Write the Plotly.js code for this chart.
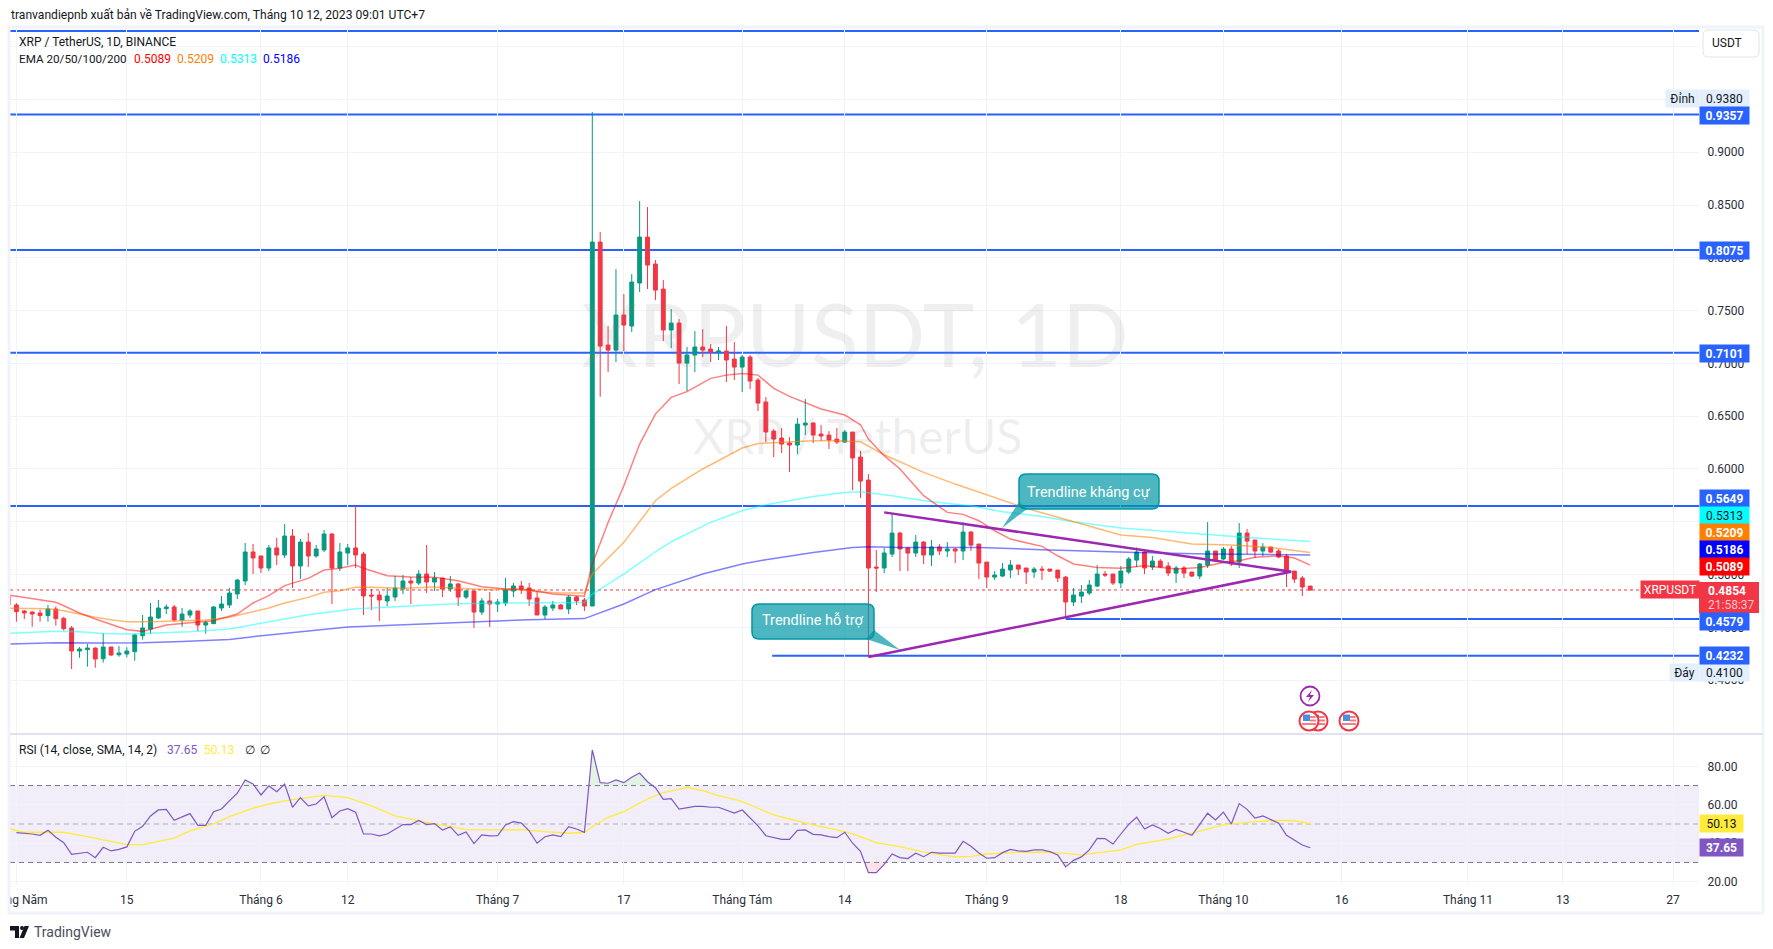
<!DOCTYPE html>
<html>
<head>
<meta charset="utf-8">
<script src="https://cdn.plot.ly/plotly-3.0.1.min.js"></script>
<style>html,body{margin:0;padding:0;background:#fff;overflow:hidden}#chart{width:1773px;height:949px}</style>
</head>
<body>
<div id="chart"></div>
<script>
const firstDay = '2023-05-01';
const opens = [.4800,
.4712,.4655,.4645,.4636,.4611,.4674,.4585,.4494,.4276,.4289,
.4304,.4203,.4314,.4241,.4248,.4270,.4421,.4484,.4589,.4677,
.4693,.4570,.4617,.4655,.4522,.4535,.4683,.4712,.4816,.4939,
.5214,.5176,.5062,.5252,.5185,.5365,.5081,.5308,.5176,.5233,
.5384,.5062,.5204,.5252,.5195,.4806,.4806,.4750,.4787,.4863,
.4939,.4920,.5005,.4929,.4967,.4863,.4911,.4787,.4844,.4645,
.4750,.4721,.4731,.4844,.4892,.4873,.4778,.4617,.4683,.4712,
.4674,.4787,.4759,.4702,.8149,.7174,.7126,.7458,.7354,.7761,
.8196,.7941,.7704,.7316,.7382,.7003,.7079,.7155,.7136,.7107,
.7117,.7041,.6965,.7060,.6842,.6634,.6359,.6293,.6246,.6227,
.6416,.6435,.6331,.6321,.6283,.6255,.6350,.6113,.5895,.5071,
.5062,.5194,.5393,.5251,.5204,.5308,.5185,.5261,.5223,.5242,
.5223,.5403,.5289,.5118,.4976,.4986,.5043,.5090,.5062,.5024,
.5052,.5052,.5043,.4976,.4740,.4796,.4825,.4891,.5005,.5005,
.4920,.5024,.5137,.5213,.5071,.5128,.5081,.5014,.5062,.5024,
.4986,.5090,.5223,.5147,.5242,.5118,.5393,.5327,.5223,.5261,
.5223,.5175,.5033,.4967,.4891];
const highs = [.4806,
.4731,.4664,.4655,.4667,.4712,.4699,.4601,.4513,.4314,.4342,
.4311,.4446,.4314,.4323,.4311,.4437,.4617,.4731,.4759,.4718,
.4712,.4683,.4671,.4655,.4563,.4702,.4797,.4873,.4958,.5299,
.5289,.5176,.5280,.5346,.5479,.5431,.5337,.5394,.5280,.5422,
.5394,.5299,.5289,.5659,.5214,.4863,.4844,.4873,.4986,.4996,
.4977,.5043,.5280,.5024,.4967,.4986,.4920,.4854,.4844,.4778,
.4835,.4768,.4967,.4920,.4939,.4920,.4844,.4712,.4750,.4721,
.4806,.4797,.4778,.9380,.8244,.7354,.7893,.7657,.7846,.8537,
.8481,.7979,.7789,.7515,.7420,.7155,.7306,.7325,.7183,.7155,
.7354,.7202,.7079,.7079,.6861,.6681,.6378,.6388,.6302,.6482,
.6662,.6444,.6416,.6359,.6388,.6369,.6350,.6170,.5952,.5232,
.5251,.5583,.5403,.5261,.5374,.5317,.5327,.5289,.5308,.5251,
.5497,.5412,.5289,.5118,.5033,.5109,.5137,.5090,.5062,.5071,
.5081,.5052,.5043,.4986,.4872,.4901,.4948,.5090,.5033,.5005,
.5081,.5166,.5257,.5223,.5175,.5147,.5118,.5081,.5081,.5024,
.5109,.5497,.5223,.5261,.5270,.5488,.5431,.5327,.5298,.5261,
.5242,.5194,.5033,.4986,.4891];
const lows = [.4700,
.4554,.4579,.4506,.4554,.4554,.4516,.4469,.4105,.4213,.4128,
.4118,.4166,.4229,.4222,.4216,.4184,.4383,.4440,.4579,.4626,
.4554,.4506,.4589,.4465,.4440,.4532,.4655,.4683,.4768,.4901,
.5005,.5015,.5034,.5090,.5157,.4873,.4958,.5072,.5160,.5214,
.4721,.5034,.5090,.5062,.4617,.4664,.4560,.4702,.4750,.4816,
.4721,.4901,.4825,.4844,.4787,.4835,.4702,.4768,.4494,.4617,
.4503,.4645,.4702,.4787,.4816,.4702,.4617,.4579,.4655,.4674,
.4626,.4712,.4655,.4702,.6684,.6918,.7013,.7117,.7297,.7676,
.7704,.7600,.7211,.7145,.6804,.6738,.6918,.7060,.7013,.7032,
.6823,.6842,.6728,.6757,.6549,.6252,.6113,.6151,.5971,.6141,
.6321,.6246,.6265,.6189,.6236,.6246,.5800,.5725,.4219,.4834,
.5014,.5166,.5033,.5033,.5166,.5100,.5081,.5185,.5166,.5109,
.5137,.5223,.4957,.4872,.4948,.4976,.4967,.4995,.4910,.4967,
.4948,.5024,.4929,.4598,.4702,.4730,.4806,.4882,.4976,.4901,
.4872,.5005,.5071,.5005,.5043,.5062,.4986,.4920,.4967,.4976,
.4957,.5062,.5128,.5137,.5081,.5062,.5194,.5156,.5175,.5204,
.5156,.4882,.4920,.4796,.4844];
const closes = [.4712,
.4649,.4636,.4626,.4611,.4674,.4582,.4488,.4276,.4295,.4304,
.4200,.4314,.4238,.4257,.4276,.4428,.4494,.4598,.4683,.4693,
.4570,.4626,.4655,.4522,.4544,.4693,.4721,.4825,.4948,.5214,
.5157,.5062,.5252,.5185,.5365,.5081,.5308,.5176,.5242,.5384,
.5062,.5214,.5252,.5185,.4797,.4797,.4759,.4797,.4873,.4939,
.4920,.5005,.4929,.4967,.4863,.4911,.4787,.4844,.4645,.4750,
.4721,.4740,.4854,.4892,.4863,.4768,.4617,.4693,.4712,.4674,
.4787,.4750,.4702,.8149,.7164,.7126,.7458,.7363,.7770,.8196,
.7931,.7694,.7316,.7382,.7003,.7079,.7155,.7126,.7107,.7117,
.7032,.6965,.7060,.6833,.6624,.6350,.6283,.6236,.6227,.6425,
.6435,.6321,.6312,.6274,.6255,.6350,.6104,.5886,.5062,.5062,
.5204,.5393,.5242,.5204,.5308,.5185,.5261,.5223,.5242,.5223,
.5403,.5279,.5109,.4976,.4995,.5052,.5090,.5052,.5024,.5052,
.5043,.5033,.4967,.4740,.4806,.4834,.4901,.5005,.4995,.4920,
.5033,.5147,.5213,.5062,.5128,.5071,.5014,.5062,.5014,.4986,
.5100,.5223,.5137,.5242,.5100,.5393,.5317,.5223,.5261,.5213,
.5166,.5024,.4957,.4882,.4854];

const ema20Days = [-1,1,3,5,6,8,10,12,14,16,17,19,22,25,28,30,32,34,37,39,41,43,44,47,50,53,56,59,62,65,68,72,73,75,77,79,81,83,85,88,90,92,94,96,98,100,102,105,107,108,110,112,115,118,120,122,124,126,130,132,134,137,140,143,147,150,153,155,157,160,162,164];
const ema20Vals = [.4806,.4784,.4759,.4737,.4705,.4636,.4579,.4525,.4478,.4462,.4484,.4522,.4544,.4563,.4626,.4731,.4800,.4895,.4964,.5043,.5059,.5090,.5059,.4989,.4977,.4974,.4942,.4885,.4863,.4857,.4816,.4795,.5100,.5494,.5841,.6236,.6520,.6678,.6732,.6858,.6889,.6905,.6889,.6763,.6688,.6631,.6568,.6511,.6419,.6283,.6126,.6000,.5747,.5589,.5570,.5510,.5415,.5336,.5267,.5178,.5100,.5068,.5059,.5084,.5052,.5068,.5115,.5131,.5163,.5178,.5156,.5089];
const ema50Days = [-1,4,6,8,10,12,14,17,20,24,27,30,32,34,37,39,41,43,45,49,53,56,60,63,66,69,72,73,77,81,83,87,92,94,98,101,104,106,107,110,115,119,122,125,128,132,135,140,144,149,154,159,164];
const ema50Vals = [.4680,.4677,.4658,.4626,.4595,.4573,.4554,.4554,.4563,.4570,.4595,.4649,.4683,.4731,.4784,.4832,.4847,.4879,.4879,.4870,.4882,.4870,.4857,.4863,.4838,.4825,.4825,.5005,.5305,.5699,.5816,.6000,.6198,.6242,.6258,.6268,.6268,.6261,.6258,.6135,.5968,.5857,.5778,.5699,.5627,.5542,.5478,.5374,.5352,.5289,.5279,.5257,.5209];
const ema100Days = [-1,5,8,11,14,17,22,27,30,34,37,41,43,47,51,55,61,66,72,73,77,81,83,88,92,95,101,105,107,111,116,121,125,130,134,140,147,154,164];
const ema100Vals = [.4443,.4462,.4459,.4443,.4437,.4446,.4459,.4484,.4525,.4579,.4620,.4658,.4677,.4690,.4705,.4721,.4731,.4734,.4735,.4815,.5005,.5216,.5311,.5494,.5605,.5662,.5740,.5778,.5785,.5747,.5690,.5652,.5595,.5551,.5500,.5441,.5399,.5362,.5313];
const ema200Days = [-1,5,11,16,21,27,30,34,38,42,46,53,58,65,72,77,81,87,92,95,101,106,108,112,122,130,142,151,164];
const ema200Vals = [.4342,.4355,.4352,.4355,.4367,.4386,.4412,.4443,.4475,.4503,.4516,.4538,.4554,.4573,.4583,.4721,.4857,.5005,.5100,.5141,.5210,.5257,.5264,.5257,.5257,.5235,.5210,.5194,.5186];

const rsiVals = [
45.5,45.3,44.8,44.1,46.7,43.1,40.3,34.2,34.6,35.3,
32.5,37.9,36.0,36.8,38.1,46.2,48.8,54.2,57.3,57.6,
51.9,53.6,55.4,49.3,49.3,56.4,57.8,62.0,66.0,72.9,
70.8,65.1,69.8,66.8,70.8,58.7,63.7,59.4,60.4,64.2,
53.3,56.8,58.0,56.1,44.8,44.8,43.8,44.8,47.4,49.7,
49.7,51.9,49.7,50.2,46.9,48.5,44.1,45.9,39.8,44.3,
43.8,44.0,49.5,51.2,50.5,46.4,40.0,43.4,44.3,43.4,
48.6,47.4,45.7,88.5,71.5,71.2,72.9,71.5,74.3,76.5,
72.0,68.9,62.8,63.2,57.8,58.5,59.2,59.2,58.7,58.7,
57.3,55.7,57.3,53.1,49.0,43.9,42.9,42.0,42.0,46.7,
46.9,44.6,44.3,43.4,42.9,45.7,40.0,35.8,24.7,24.7,
29.0,34.4,32.5,32.0,34.8,33.0,35.3,34.9,34.9,34.9,
41.0,38.4,34.9,32.2,32.5,35.1,36.8,36.0,35.8,36.5,
36.5,35.6,33.9,27.7,31.1,32.9,36.5,42.5,42.4,39.6,
44.8,49.8,53.5,47.4,49.5,47.7,45.2,47.2,45.7,44.1,
49.8,55.6,52.1,56.2,50.0,60.6,57.6,53.1,54.2,52.4,
50.4,44.1,41.7,39.1,37.65];
const rsiMaDays = [-1,1,4,6,9,12,14,16,18,20,22,25,27,30,32,34,36,39,42,45,48,50,52,55,57,61,64,67,70,72,73,75,77,80,82,84,85,87,89,91,92,94,96,98,101,105,107,109,112,115,119,121,123,127,131,135,138,140,142,146,149,153,157,160,162,164];
const rsiMaVals = [47.6,45.7,45.7,45.7,43.4,40.8,39.3,39.3,40.8,42.7,46.4,50.0,53.8,58.3,60.4,62.0,63.2,64.9,63.7,59.4,54.2,52.4,50.9,48.6,47.1,46.9,47.1,46.0,45.2,45.7,48.6,53.5,56.4,63.0,66.3,68.0,69.1,67.3,64.7,62.8,61.6,58.2,54.7,52.6,49.5,46.0,43.4,40.3,38.2,35.4,32.9,33.2,34.4,35.3,35.4,33.9,35.6,36.5,39.4,42.2,45.2,49.5,51.2,51.9,51.7,50.13];

const levelVals = [1.0148,.9357,.8075,.7101,.5649,.4579,.4232];
const levelFromDay = [-2,-2,-2,-2,-2,133,95.8];
const supportDays = [108,161.6];
const supportVals = [.4220,.5027];
const resistDays = [110,161.6];
const resistVals = [.5589,.5027];

const tickDates = ['2023-05-01','2023-05-15','2023-06-01','2023-06-12','2023-07-01','2023-07-17','2023-08-01','2023-08-14','2023-09-01','2023-09-18','2023-10-01','2023-10-16','2023-11-01','2023-11-13','2023-11-27'];
const tickNames = ['Tháng Năm','15','Tháng 6','12','Tháng 7','17','Tháng Tám','14','Tháng 9','18','Tháng 10','16','Tháng 11','13','27'];
const priceTicks = [.40,.45,.50,.55,.60,.65,.70,.75,.80,.85,.90,.95,1.00];
const priceTickNames = ['0.4000','0.4500','0.5000','','0.6000','0.6500','0.7000','0.7500','0.8000','0.8500','0.9000','',''];
const rsiTicks = [20,40,60,80];
const lastPrice = .4854;

const W = 1773, H = 949;
const X = px => px / W, Y = py => 1 - py / H;
const BLUE = '#2962ff', RED = '#f23645', GREEN = '#089981', PURPLE = '#9c27b0', TXT = '#131722';
const dayMs = 86400000, t0 = Date.parse(firstDay + 'T00:00:00Z');
const dateOf = d => new Date(t0 + d * dayMs).toISOString().replace('T', ' ').replace('Z', '');
const dates = opens.map((_, i) => dateOf(i - 1));
const dPx = 7.889;
const rangeStart = dateOf((10 - 16.4) / dPx), rangeEnd = dateOf((1699 - 16.4) / dPx);

function lineTrace(days, vals, color, width, yaxis) {
  return {type: 'scatter', mode: 'lines', x: days.map(dateOf), y: vals, yaxis: yaxis || 'y', xaxis: 'x',
    line: {color, width}, hoverinfo: 'skip'};
}
function fillPolys(thr, sign, color) {
  const out = [];
  let cur = null;
  rsiVals.forEach((v, i) => {
    const inside = sign * (v - thr) > 0;
    if (inside) {
      if (!cur) {
        const p = i ? rsiVals[i - 1] : v;
        const f = i ? i - 1 + (thr - p) / (v - p) : i;
        cur = {x: [f], y: [thr]};
      }
      cur.x.push(i); cur.y.push(v);
    } else if (cur) {
      const p = rsiVals[i - 1];
      cur.x.push(i - 1 + (thr - p) / (v - p)); cur.y.push(thr);
      out.push(cur); cur = null;
    }
  });
  return out.map(c => ({type: 'scatter', mode: 'lines', x: c.x.map(dateOf), y: c.y, yaxis: 'y2', xaxis: 'x',
    fill: 'toself', fillcolor: color, line: {width: 0}, hoverinfo: 'skip'}));
}

const traces = [
  {type: 'candlestick', x: dates, open: opens, high: highs, low: lows, close: closes, xaxis: 'x', yaxis: 'y',
   whiskerwidth: 0,
   increasing: {line: {color: GREEN, width: 1}, fillcolor: GREEN},
   decreasing: {line: {color: RED, width: 1}, fillcolor: RED}, hoverinfo: 'skip'},
  lineTrace(ema200Days, ema200Vals, 'rgba(0,0,255,0.5)', 1.5),
  lineTrace(ema100Days, ema100Vals, 'rgba(0,255,255,0.5)', 1.5),
  lineTrace(ema50Days, ema50Vals, 'rgba(255,128,0,0.55)', 1.5),
  lineTrace(ema20Days, ema20Vals, 'rgba(255,0,0,0.5)', 1.5),
  lineTrace(supportDays, supportVals, PURPLE, 2.5),
  lineTrace(resistDays, resistVals, PURPLE, 2.5),
  ...fillPolys(70, 1, 'rgba(76,175,80,0.16)'),
  ...fillPolys(30, -1, 'rgba(242,54,69,0.14)'),
  lineTrace(rsiMaDays, rsiMaVals, '#ffeb3b', 1.3, 'y2'),
  lineTrace(rsiVals.map((_, i) => i), rsiVals, '#7e57c2', 1.2, 'y2')
];

function rr(x0, y0, x1, y1, r) {
  let p = `M${X(x0 + r)},${Y(y0)} L${X(x1 - r)},${Y(y0)} Q${X(x1)},${Y(y0)} ${X(x1)},${Y(y0 + r)} `;
  p += `L${X(x1)},${Y(y1 - r)} Q${X(x1)},${Y(y1)} ${X(x1 - r)},${Y(y1)} `;
  p += `L${X(x0 + r)},${Y(y1)} Q${X(x0)},${Y(y1)} ${X(x0)},${Y(y1 - r)} `;
  p += `L${X(x0)},${Y(y0 + r)} Q${X(x0)},${Y(y0)} ${X(x0 + r)},${Y(y0)} Z`;
  return p;
}
const pxRect = (x0, y0, x1, y1, fill, line) => ({type: 'rect', xref: 'paper', yref: 'paper', x0: X(x0), x1: X(x1), y0: Y(y1), y1: Y(y0),
  fillcolor: fill, line: line || {width: 0}, layer: 'above'});
const pxCircle = (cx, cy, r, fill, line) => ({type: 'circle', xref: 'paper', yref: 'paper', x0: X(cx - r), x1: X(cx + r), y0: Y(cy + r), y1: Y(cy - r),
  fillcolor: fill, line, layer: 'above'});
const pxPath = (path, fill, line) => ({type: 'path', xref: 'paper', yref: 'paper', path, fillcolor: fill, line: line || {width: 0}, layer: 'above'});
const poly = pts => 'M' + pts.map(p => `${X(p[0])},${Y(p[1])}`).join(' L') + ' Z';

function flag(cx, cy) {
  return [
    pxCircle(cx, cy, 9.5, '#ffffff', {color: RED, width: 2}),
    pxRect(cx - 6, cy - 6.5, cx + 1, cy, '#4a90e2'),
    pxRect(cx + 1, cy - 5, cx + 6.5, cy - 3, '#f77c80'),
    pxRect(cx + 1, cy - 1.5, cx + 7, cy + 0.5, '#f77c80'),
    pxRect(cx - 7, cy + 2, cx + 7, cy + 4, '#f77c80')
  ];
}

const shapes = [
  {type: 'rect', xref: 'paper', yref: 'y2', x0: X(10), x1: X(1699), y0: 30, y1: 70, fillcolor: 'rgba(126,87,194,0.1)', line: {width: 0}, layer: 'below'},
  {type: 'line', xref: 'paper', yref: 'y2', x0: X(10), x1: X(1699), y0: 70, y1: 70, line: {color: '#787b86', width: 1, dash: '5px,4px'}, layer: 'below'},
  {type: 'line', xref: 'paper', yref: 'y2', x0: X(10), x1: X(1699), y0: 30, y1: 30, line: {color: '#787b86', width: 1, dash: '5px,4px'}, layer: 'below'},
  {type: 'line', xref: 'paper', yref: 'y2', x0: X(10), x1: X(1699), y0: 50, y1: 50, line: {color: 'rgba(120,123,134,0.55)', width: 1, dash: '5px,4px'}, layer: 'below'},
  ...levelVals.map((v, i) => ({type: 'line', xref: 'x', yref: 'y', x0: dateOf(levelFromDay[i]), x1: rangeEnd, y0: v, y1: v, line: {color: BLUE, width: 2}, layer: 'below'})),
  {type: 'line', xref: 'paper', yref: 'y', x0: X(10), x1: X(1699), y0: lastPrice, y1: lastPrice, line: {color: RED, width: 1, dash: 'dot'}, layer: 'below'},
  pxPath(rr(752, 604, 874, 639, 7), 'rgba(0,151,167,0.7)', {color: '#0097a7', width: 1.5}),
  pxPath(poly([[874, 630], [900, 650], [866, 639]]), 'rgba(0,151,167,0.7)', {width: 0}),
  pxPath(rr(1019, 474, 1159, 509, 7), 'rgba(0,151,167,0.7)', {color: '#0097a7', width: 1.5}),
  pxPath(poly([[1019, 502], [1002, 528], [1027, 509]]), 'rgba(0,151,167,0.7)', {width: 0}),
  pxCircle(1310, 696, 9.5, '#ffffff', {color: PURPLE, width: 1.8}),
  pxPath(poly([[1312, 690], [1306, 697], [1310, 697], [1308, 702], [1314, 695], [1310, 695]]), PURPLE),
  ...flag(1318, 721), ...flag(1309, 721), ...flag(1349, 721),
  pxRect(0, 0, 8, 949, '#ffffff'),
  pxRect(9, 27, 1763, 913, 'rgba(0,0,0,0)', {color: '#f0f3fa', width: 3}),
  {type: 'line', xref: 'paper', yref: 'paper', x0: X(10), x1: X(1763), y0: Y(734), y1: Y(734), line: {color: '#e0e3eb', width: 2}, layer: 'above'},
  pxPath(rr(1703, 30, 1759, 57, 5), '#ffffff', {color: '#e0e3eb', width: 1}),
  pxRect(1699, 582, 1759, 613, RED),
  pxPath(poly([[10, 926], [19, 926], [19, 938], [15, 938], [15, 930.5], [10, 930.5]]), TXT),
  pxCircle(22, 928, 2, TXT, {width: 0}),
  pxPath(poly([[19.5, 938], [24.5, 926], [29, 926], [24, 938]]), TXT)
];

const txt = (x, y, text, o) => Object.assign({xref: 'paper', yref: 'paper', x: X(x), y: Y(y), text, showarrow: false,
  xanchor: 'left', yanchor: 'middle', font: {family: 'Roboto', size: 12, color: TXT}, borderpad: 0}, o || {});
function tag(val, shift, bg, fg, w, bold, yref) {
  const s = val.toFixed(yref === 'y2' ? 2 : 4);
  return {xref: 'paper', yref: yref || 'y', x: X(1699), y: val, yshift: shift, text: bold ? `<b>${s}</b>` : s, showarrow: false,
    xanchor: 'left', yanchor: 'middle', width: w || 49, height: 17, bgcolor: bg, borderpad: 0, align: 'center',
    font: {family: 'Roboto', size: 12, color: fg}};
}
function sideLabel(x0, x1, val, shift, text, bg, fg, yref) {
  return {xref: 'paper', yref: yref || 'y', x: X(x0), y: val, yshift: shift, text, showarrow: false, xanchor: 'left', yanchor: 'middle',
    width: x1 - x0, height: 17, bgcolor: bg, borderpad: 0, align: 'center', font: {family: 'Roboto', size: 12, color: fg}};
}

const annotations = [
  txt(10, 15, 'tranvandiepnb xuất bản về TradingView.com, Tháng 10 12, 2023 09:01 UTC+7', {font: {family: 'Roboto', size: 12.1, color: TXT}}),
  txt(17.5, 42, 'XRP / TetherUS, 1D, BINANCE'),
  txt(17.5, 59, 'EMA 20/50/100/200', {font: {family: 'Roboto', size: 11.7, color: TXT}}),
  txt(133, 59, '0.5089', {font: {family: 'Roboto', size: 12, color: '#ff0000'}}),
  txt(176, 59, '0.5209', {font: {family: 'Roboto', size: 12, color: '#ff8000'}}),
  txt(219, 59, '0.5313', {font: {family: 'Roboto', size: 12, color: '#00ffff'}}),
  txt(262, 59, '0.5186', {font: {family: 'Roboto', size: 12, color: '#0000ff'}}),
  txt(855, 333, 'XRPUSDT, 1D', {xanchor: 'center', font: {family: 'Lato', size: 88, color: 'rgba(120,123,134,0.12)'}}),
  txt(857, 436, 'XRP / TetherUS', {xanchor: 'center', font: {family: 'Lato', size: 48, color: 'rgba(120,123,134,0.12)'}}),
  txt(812.5, 620, 'Trendline hỗ trợ', {xanchor: 'center', font: {family: 'Roboto', size: 14.5, color: '#ffffff'}}),
  txt(1089, 492, 'Trendline kháng cự', {xanchor: 'center', font: {family: 'Roboto', size: 14.5, color: '#ffffff'}}),
  txt(18, 750, 'RSI (14, close, SMA, 14, 2)'),
  txt(166, 750, '37.65', {font: {family: 'Roboto', size: 12, color: '#7e57c2'}}),
  txt(203, 750, '50.13', {font: {family: 'Roboto', size: 12, color: '#ffeb3b'}}),
  txt(244, 750, '∅'),
  txt(259, 750, '∅'),
  txt(33, 932, 'TradingView', {font: {family: 'Roboto', size: 14, color: '#4a4e59'}}),
  txt(1711, 43.5, 'USDT'),
  sideLabel(1665, 1698, .9380, 13.6, 'Đỉnh', '#e3effd', TXT),
  tag(.9380, 13.6, '#e3effd', TXT),
  sideLabel(1669, 1698, .4100, -3.4, 'Đáy', '#e3effd', TXT),
  tag(.4100, -3.4, '#e3effd', TXT),
  tag(.9357, -1, BLUE, '#ffffff', 49, true),
  tag(.8075, -0.6, BLUE, '#ffffff', 49, true),
  tag(.7101, -0.8, BLUE, '#ffffff', 49, true),
  tag(.5649, 8, BLUE, '#ffffff', 49, true),
  tag(.5313, 26, '#00ffff', TXT),
  tag(.5209, 20, '#ff8000', '#ffffff', 49, true),
  tag(.5186, 5.4, '#0000ff', '#ffffff', 49, true),
  tag(.5089, -1.3, '#ff0000', '#ffffff', 49, true),
  tag(.4579, -2, BLUE, '#ffffff', 49, true),
  tag(.4232, -0.3, BLUE, '#ffffff', 49, true),
  sideLabel(1640, 1698, lastPrice, 0, 'XRPUSDT', RED, '#ffffff'),
  txt(1707, 590.5, '<b>0.4854</b>', {font: {family: 'Roboto', size: 12, color: '#ffffff'}}),
  txt(1707, 605, '21:58:37', {font: {family: 'Roboto', size: 12, color: '#fbc4c8'}}),
  tag(50.13, 0, '#ffeb3b', TXT, 43, false, 'y2'),
  tag(37.65, 0, '#7e57c2', '#ffffff', 43, true, 'y2')
];

const layout = {
  width: W, height: H, margin: {l: 0, r: 0, t: 0, b: 0}, paper_bgcolor: '#ffffff', plot_bgcolor: '#ffffff',
  showlegend: false, hovermode: false, dragmode: false, boxmode: 'overlay', boxgap: 0.3,
  font: {family: 'Roboto', size: 12, color: TXT},
  xaxis: {type: 'date', domain: [X(10), X(1699)], anchor: 'y2', range: [rangeStart, rangeEnd], rangeslider: {visible: false},
    tickmode: 'array', tickvals: tickDates, ticktext: tickNames, ticklabeloverflow: 'allow', showgrid: true, gridcolor: '#f0f3fa', gridwidth: 1, zeroline: false,
    showline: false, ticks: 'outside', ticklen: 4, tickcolor: 'rgba(0,0,0,0)', tickfont: {family: 'Roboto', size: 12, color: '#2a2e39'}},
  yaxis: {domain: [1 - 734 / H, 1 - 27 / H], anchor: 'x', side: 'right', range: [.3490, 1.0186], tickmode: 'array', tickvals: priceTicks, ticktext: priceTickNames,
    showgrid: true, gridcolor: '#f0f3fa', zeroline: false, showline: false, ticks: 'outside', ticklen: 5, tickcolor: 'rgba(0,0,0,0)', tickfont: {family: 'Roboto', size: 12, color: '#2a2e39'}},
  yaxis2: {domain: [1 - 885 / H, 1 - 734 / H], anchor: 'x', side: 'right', range: [18.28, 96.8], tickmode: 'array', tickvals: rsiTicks, tickformat: '.2f',
    showgrid: true, gridcolor: '#f0f3fa', zeroline: false, showline: false, ticks: 'outside', ticklen: 5, tickcolor: 'rgba(0,0,0,0)', tickfont: {family: 'Roboto', size: 12, color: '#2a2e39'}},
  shapes, annotations
};
Plotly.newPlot('chart', traces, layout, {staticPlot: true, displayModeBar: false, responsive: false});
</script>
</body>
</html>
